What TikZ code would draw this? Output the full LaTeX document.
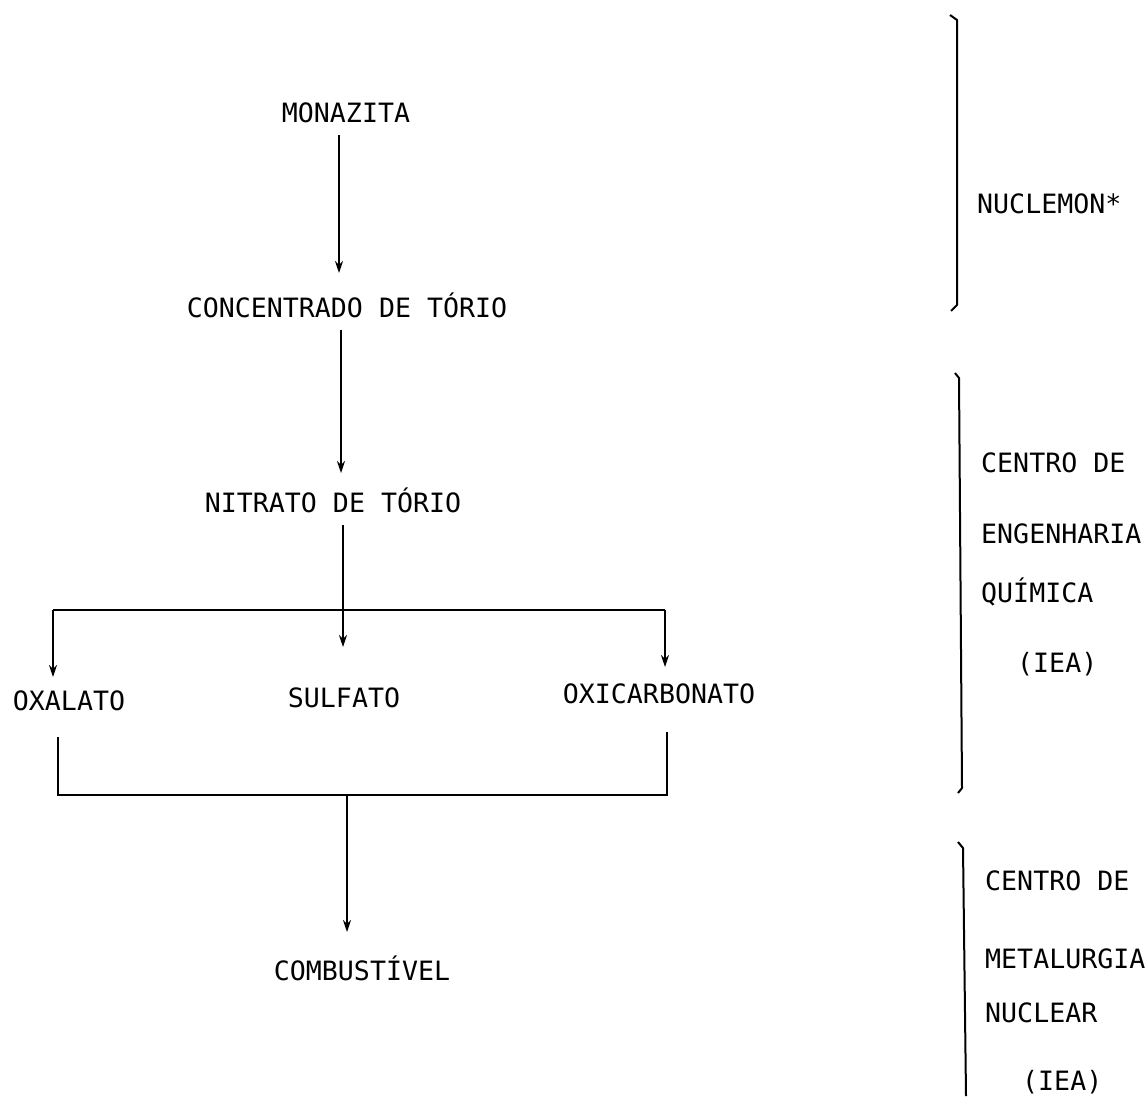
\documentclass[tikz,border=0pt]{standalone}
\usepackage{fontspec}
\setmonofont{DejaVu Sans Mono}
\usetikzlibrary{arrows.meta}
\begin{document}
\begin{tikzpicture}[x=1pt,y=-1pt,
  lbl/.style={font=\ttfamily\fontsize{26.6}{30}\selectfont, inner sep=0pt, anchor=base},
  side/.style={font=\ttfamily\fontsize{26.6}{30}\selectfont, inner sep=0pt, anchor=base west},
  ln/.style={line width=1.9pt, black},
  arr/.style={line width=1.9pt, black, -{Stealth[length=12pt,width=8pt]}},
  brk/.style={line width=2pt, black, line join=round}]
\fill[white] (0,0) rectangle (1147,1096);
\useasboundingbox (0,0) rectangle (1147,1096);

% flow nodes
\node[lbl] (mon)  at (346,122) {MONAZITA};
\node[lbl] (conc) at (347,317) {CONCENTRADO DE TÓRIO};
\node[lbl] (nit)  at (333,512) {NITRATO DE TÓRIO};
\node[lbl] (oxa)  at (69,710)  {OXALATO};
\node[lbl] (sulf) at (344,707) {SULFATO};
\node[lbl] (oxi)  at (659,703) {OXICARBONATO};
\node[lbl] (comb) at (362,980) {COMBUSTÍVEL};

% vertical arrows
\draw[arr] ([shift={(-7,13)}]mon.base) -- ([shift={(-8,-44)}]conc.base);
\draw[arr] ([shift={(-6,13)}]conc.base) -- ([shift={(8,-39)}]nit.base);
\draw[arr] ([shift={(10,13)}]nit.base) -- ([shift={(-1,-60)}]sulf.base);

% top distribution line and branch arrows
\draw[ln] ([shift={(-16,-100)}]oxa.base) -- ([shift={(6,-93)}]oxi.base);
\draw[arr] ([shift={(-16,-100)}]oxa.base) -- ([shift={(-16,-33)}]oxa.base);
\draw[arr] ([shift={(6,-93)}]oxi.base) -- ([shift={(6,-36)}]oxi.base);

% collecting line
\draw[ln] ([shift={(-11,27)}]oxa.base) -- ([shift={(-11,85)}]oxa.base)
  -- ([shift={(8,92)}]oxi.base) -- ([shift={(8,29)}]oxi.base);
\coordinate (bj) at (347,795);
\draw[arr] (bj) -- ([shift={(-15,-48)}]comb.base);

% right-hand brackets
\draw[brk] (950,15) -- (957,20) -- (957,305) -- (951,311);
\draw[brk] (955,373) -- (959,378) -- (962,788) -- (958,793);
\draw[brk] (958,842) -- (963,848) -- (966,1096);

\node[side] (nuc) at (977,213) {NUCLEMON*};

\node[side] (ceq1) at (981,472) {CENTRO DE};
\node[side] (ceq2) at (981,543) {ENGENHARIA};
\node[side] (ceq3) at (981,602) {QUÍMICA};
\node[side] (ceq4) at (1017,672) {(IEA)};

\node[side] (cmn1) at (985,890) {CENTRO DE};
\node[side] (cmn2) at (985,968) {METALURGIA};
\node[side] (cmn3) at (985,1022) {NUCLEAR};
\node[side] (cmn4) at (1022,1090) {(IEA)};
\end{tikzpicture}
\end{document}
